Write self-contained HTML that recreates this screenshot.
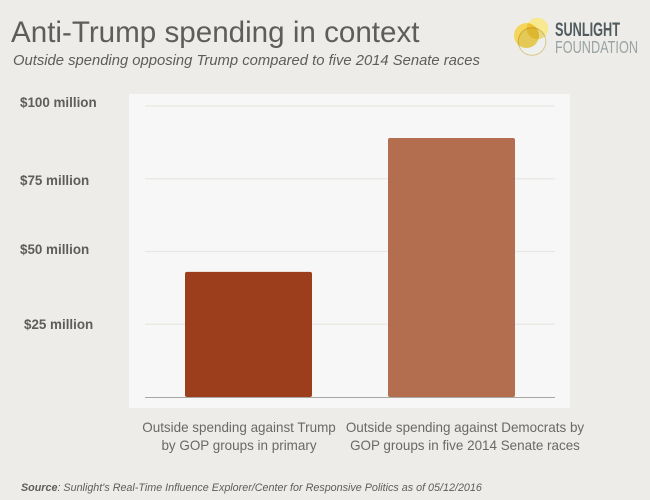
<!DOCTYPE html>
<html lang="en">
<head>
<meta charset="utf-8">
<title>Anti-Trump spending in context</title>
<style>
  html, body { margin: 0; padding: 0; background: #edece8; }
  svg { display: block; font-family: "Liberation Sans", sans-serif; }
</style>
</head>
<body>
<svg id="chart" xmlns="http://www.w3.org/2000/svg" width="650" height="500" viewBox="0 0 650 500">
  <rect x="0" y="0" width="650" height="500" fill="#edece8"/>
  <text x="11" y="42" font-size="29.6" fill="#5f5d59">Anti-Trump spending in context</text>
  <text x="13" y="65" font-size="14.8" font-style="italic" fill="#5f5d59">Outside spending opposing Trump compared to five 2014 Senate races</text>

  <g style="isolation:isolate">
    <circle cx="532" cy="41.5" r="13.8" fill="#eef0ee" stroke="#d9c98a" stroke-width="1"/>
    <circle cx="537.5" cy="28.5" r="10.8" fill="#f8e88f" style="mix-blend-mode:multiply"/>
    <circle cx="526.5" cy="35.5" r="12.5" fill="#f5d65c" style="mix-blend-mode:multiply"/>
    <text x="555" y="36" font-size="19.5" font-weight="bold" fill="#4f5b5e" textLength="65" lengthAdjust="spacingAndGlyphs">SUNLIGHT</text>
    <text x="555" y="53" font-size="17.7" fill="#9aa3a3" textLength="83" lengthAdjust="spacingAndGlyphs">FOUNDATION</text>
  </g>

  <rect x="129" y="94" width="441" height="314" fill="#f8f7f8"/>
  <g id="grid"></g>
  <g id="bars"></g>
  <line x1="145" x2="555" y1="397.5" y2="397.5" stroke="#a9a7a3" stroke-width="1"/>

  <g font-size="13.4" font-weight="bold" fill="#5f5d59">
    <text x="20" y="107">$100 million</text>
    <text x="20" y="185">$75 million</text>
    <text x="20" y="254">$50 million</text>
    <text x="24" y="329">$25 million</text>
  </g>

  <g font-size="13.45" fill="#6b6965" text-anchor="middle">
    <text x="239" y="432">Outside spending against Trump</text>
    <text x="239" y="450">by GOP groups in primary</text>
    <text x="465" y="432">Outside spending against Democrats by</text>
    <text x="465" y="450">GOP groups in five 2014 Senate races</text>
  </g>

  <text x="21" y="491" font-size="10.75" font-style="italic" fill="#5f5d59"><tspan font-weight="bold">Source</tspan>: Sunlight's Real-Time Influence Explorer/Center for Responsive Politics as of 05/12/2016</text>
</svg>
<script>
const categories = ["Against Trump, 2016 primary", "Against Democrats, 2014 Senate races"];
const spendingMillions = [43, 89];
const barColors = ["#9c3d1c", "#b36d4f"];
const gridTicks = [25, 50, 75, 100];

const SVG_NS = "http://www.w3.org/2000/svg";
const plotBottom = 397;
const plotTop = 106;
const plotLeft = 145;
const plotRight = 555;
const domainMax = 100;
const bandOffset = 40;
const bandStep = 203;
const barWidth = 127;

function yScale(value) {
  return plotBottom - (value / domainMax) * (plotBottom - plotTop);
}
function xScale(index) {
  return plotLeft + bandOffset + index * bandStep;
}

const gridGroup = document.getElementById("grid");
gridTicks.forEach(function (tick) {
  const line = document.createElementNS(SVG_NS, "line");
  
  
  line.setAttribute("x1", plotLeft);
  line.setAttribute("x2", plotRight);
  line.setAttribute("y1", yScale(tick));
  line.setAttribute("y2", yScale(tick));
  line.setAttribute("stroke", "#e9e7e2");
  line.setAttribute("stroke-width", "1.2");
  gridGroup.appendChild(line);
});

const barGroup = document.getElementById("bars");
categories.forEach(function (category, i) {
  const bar = document.createElementNS(SVG_NS, "rect");
  
  
  const top = yScale(spendingMillions[i]);
  bar.setAttribute("x", xScale(i));
  bar.setAttribute("y", top);
  bar.setAttribute("width", barWidth);
  bar.setAttribute("height", plotBottom - top);
  bar.setAttribute("rx", "2");
  bar.setAttribute("fill", barColors[i]);
  const tip = document.createElementNS(SVG_NS, "title");
  tip.textContent = category + ": $" + spendingMillions[i] + " million";
  bar.appendChild(tip);
  barGroup.appendChild(bar);
});
</script>
</body>
</html>
